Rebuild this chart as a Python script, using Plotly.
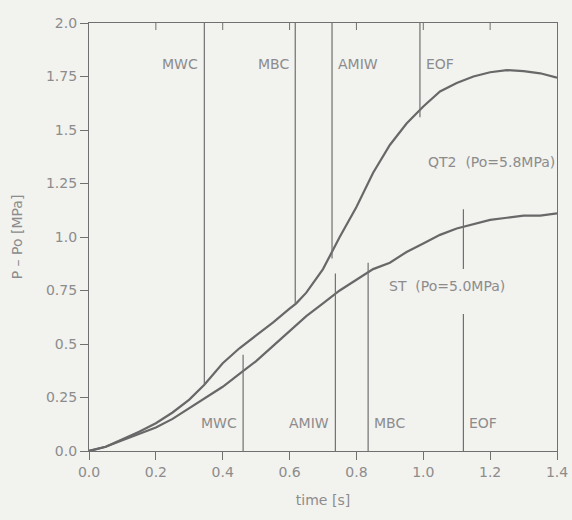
import plotly.graph_objects as go

# ---- data ----
qt2_t = [0.0, 0.05, 0.10, 0.15, 0.20, 0.25, 0.30, 0.345, 0.40, 0.45, 0.50, 0.55,
         0.60, 0.62, 0.65, 0.70, 0.75, 0.80, 0.85, 0.90, 0.95, 1.00, 1.05, 1.10,
         1.15, 1.20, 1.25, 1.30, 1.35, 1.40]
qt2_p = [0.0, 0.02, 0.055, 0.09, 0.13, 0.18, 0.24, 0.31, 0.41, 0.48, 0.54, 0.60,
         0.665, 0.69, 0.74, 0.85, 1.00, 1.14, 1.30, 1.43, 1.53, 1.61, 1.68, 1.72,
         1.75, 1.77, 1.78, 1.775, 1.765, 1.745]

st_t = [0.0, 0.05, 0.10, 0.15, 0.20, 0.25, 0.30, 0.35, 0.40, 0.45, 0.50, 0.55,
        0.60, 0.65, 0.70, 0.75, 0.80, 0.85, 0.90, 0.95, 1.00, 1.05, 1.10, 1.15,
        1.20, 1.25, 1.30, 1.35, 1.40]
st_p = [0.0, 0.02, 0.05, 0.08, 0.11, 0.15, 0.20, 0.25, 0.30, 0.36, 0.42, 0.49,
        0.56, 0.63, 0.69, 0.75, 0.80, 0.85, 0.88, 0.93, 0.97, 1.01, 1.04, 1.06,
        1.08, 1.09, 1.10, 1.10, 1.11]

# QT2 events: lines hang from the top of the plot down to the curve
qt2_events = ["MWC", "MBC", "AMIW", "EOF"]
qt2_event_t = [0.345, 0.617, 0.727, 0.99]
qt2_event_end = [0.31, 0.69, 0.90, 1.56]
qt2_label_side = ["left", "left", "right", "right"]

# ST events: lines rise from the bottom of the plot up to the curve
st_events = ["MWC", "AMIW", "MBC", "EOF"]
st_event_t = [0.461, 0.737, 0.835, 1.12]
st_event_end = [0.45, 0.83, 0.88, 1.13]
st_label_side = ["left", "left", "right", "right"]
st_eof_gap = [0.64, 0.85]   # EOF line is interrupted behind the ST label

x_ticks = [0.0, 0.2, 0.4, 0.6, 0.8, 1.0, 1.2, 1.4]
x_ticklabels = ["0.0", "0.2", "0.4", "0.6", "0.8", "1.0", "1.2", "1.4"]
y_ticks = [0.0, 0.25, 0.5, 0.75, 1.0, 1.25, 1.5, 1.75, 2.0]
y_ticklabels = ["0.0", "0.25", "0.5", "0.75", "1.0", "1.25", "1.5", "1.75", "2.0"]

Y_TOP = 2.0
Y_BOT = 0.0
QT2_LABEL_Y = 1.81
ST_LABEL_Y = 0.13

# ---- style ----
BG = "#f2f2ef"
LINE = "#707070"
CURVE = "#686868"
TXT = "#8c8c8c"
FONT = "DejaVu Sans"

fig = go.Figure()

# curves
fig.add_trace(go.Scatter(x=qt2_t, y=qt2_p, mode="lines",
                         line=dict(color=CURVE, width=2.2), hoverinfo="skip"))
fig.add_trace(go.Scatter(x=st_t, y=st_p, mode="lines",
                         line=dict(color=CURVE, width=2.2), hoverinfo="skip"))

# event lines
ex, ey = [], []
for t, e in zip(qt2_event_t, qt2_event_end):
    ex += [t, t, None]
    ey += [Y_TOP, e, None]
for name, t, e in zip(st_events, st_event_t, st_event_end):
    if name == "EOF":
        ex += [t, t, None, t, t, None]
        ey += [Y_BOT, st_eof_gap[0], None, st_eof_gap[1], e, None]
    else:
        ex += [t, t, None]
        ey += [Y_BOT, e, None]
fig.add_trace(go.Scatter(x=ex, y=ey, mode="lines",
                         line=dict(color=LINE, width=1.2), hoverinfo="skip"))

LBL = dict(family=FONT, size=14, color=TXT)
annots = []
for name, t, side in zip(qt2_events, qt2_event_t, qt2_label_side):
    annots.append(dict(x=t, y=QT2_LABEL_Y, text=name, showarrow=False,
                       xanchor="right" if side == "left" else "left",
                       xshift=-4 if side == "left" else 4, font=LBL))
for name, t, side in zip(st_events, st_event_t, st_label_side):
    annots.append(dict(x=t, y=ST_LABEL_Y, text=name, showarrow=False,
                       xanchor="right" if side == "left" else "left",
                       xshift=-4 if side == "left" else 4, font=LBL))
annots.append(dict(x=1.40, y=1.35, text="QT2  (Po=5.8MPa)", showarrow=False,
                   xanchor="right", font=LBL))
annots.append(dict(x=0.89, y=0.77, text="ST  (Po=5.0MPa)", showarrow=False,
                   xanchor="left", font=LBL))

# inward-pointing tick marks along the top frame
top_ticks = [dict(type="line", xref="x", yref="y domain", ysizemode="pixel",
                  yanchor=1, x0=v, x1=v, y0=0, y1=-7,
                  line=dict(color=LINE, width=1))
             for v in x_ticks[1:-1]]

fig.update_layout(
    width=572, height=520,
    margin=dict(l=89, r=15, t=23, b=69),
    paper_bgcolor=BG, plot_bgcolor=BG,
    showlegend=False,
    font=dict(family=FONT, size=14, color=TXT),
    annotations=annots,
    shapes=top_ticks,
    xaxis=dict(range=[0, 1.4], tickvals=x_ticks, ticktext=x_ticklabels,
               ticks="outside", ticklen=8, tickcolor=LINE, showgrid=False,
               zeroline=False, showline=True, linecolor=LINE, linewidth=1.2,
               mirror=True, automargin=False,
               title=dict(text="time [s]", standoff=16,
                          font=dict(family=FONT, size=14, color=TXT))),
    yaxis=dict(range=[0, 2.0], tickvals=y_ticks, ticktext=y_ticklabels,
               ticks="outside", ticklen=8, tickcolor=LINE, showgrid=False,
               zeroline=False, showline=True, linecolor=LINE, linewidth=1.2,
               mirror=True, automargin=False,
               title=dict(text="P – Po [MPa]", standoff=20,
                          font=dict(family=FONT, size=14, color=TXT))),
)

fig.write_html(
    "out.html",
    config={"displayModeBar": False},
    post_script="document.body.style.margin='0';"
                "document.body.style.background='" + BG + "';",
)
